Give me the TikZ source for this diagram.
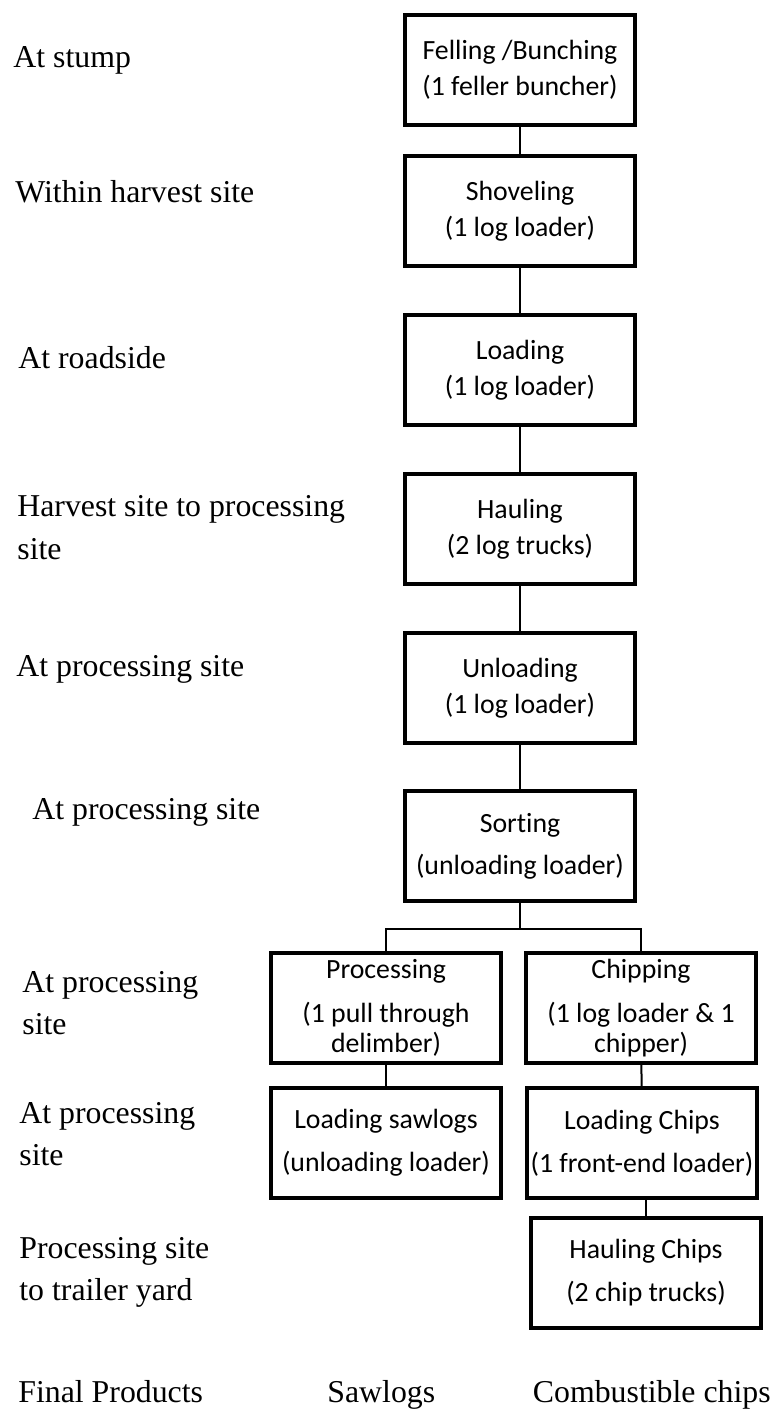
\documentclass[tikz,border=0pt]{standalone}
\usepackage{fontspec}
\setmainfont{Liberation Serif}
\newfontfamily\boxfont{Carlito}[Ligatures=NoCommon]
\usepackage{tikz}

\begin{document}
\begin{tikzpicture}[x=0.5pt,y=-0.5pt,
	stage/.style={draw,line width=2pt,minimum width=115pt,minimum height=55pt,inner sep=1pt,align=center,
		font=\boxfont\fontsize{13.9}{15}\selectfont},
	where/.style={anchor=base west,align=left,inner sep=0pt,font=\fontsize{15.9}{21}\selectfont},
	link/.style={line width=1pt}]
	\useasboundingbox (0,0) rectangle (776,1416);
	% operations
	\node[stage] (fell) at (520,70) {Felling /Bunching\\[3pt](1 feller buncher)};
	\node[stage] (shovel) at (520,211) {Shoveling\\[3pt](1 log loader)};
	\node[stage] (load) at (520,370) {Loading\\[3pt](1 log loader)};
	\node[stage] (haul) at (520,529) {Hauling\\[3pt](2 log trucks)};
	\node[stage] (unload) at (520,688) {Unloading\\[3pt](1 log loader)};
	\node[stage] (sort) at (520,846) {Sorting\\[6pt](unloading loader)};
	\node[stage] (proc) at (386,1008) {Processing\\[7pt](1 pull through\\delimber)};
	\node[stage] (chip) at (641,1008) {Chipping\\[7pt](1 log loader \& 1\\chipper)};
	\node[stage] (loadsaw) at (386,1143) {Loading sawlogs\\[6.5pt](unloading loader)};
	\node[stage] (loadchip) at (642,1143) {Loading Chips\\[6.5pt](1 front-end loader)};
	\node[stage] (haulchip) at (646,1273) {Hauling Chips\\[6.5pt](2 chip trucks)};
	\coordinate (split) at (520,929);
	% where it happens (base = last line)
	\node[where] (w1) at (13,68) {At stump};
	\node[where] (w2) at (15,203) {Within harvest site};
	\node[where] (w3) at (18,369) {At roadside};
	\node[where] (w4) at (17,559) {Harvest site to processing\\site};
	\node[where] (w5) at (16,676) {At processing site};
	\node[where] (w6) at (32,819) {At processing site};
	\node[where] (w7) at (22,1034) {At processing\\site};
	\node[where] (w8) at (19,1165) {At processing\\site};
	\node[where] (w9) at (19,1300) {Processing site\\to trailer yard};
	\node[where] (fin) at (18,1402) {Final Products};
	\node[where] (saw) at (327,1402) {Sawlogs};
	\node[where,anchor=base east] (chips) at (771,1402) {Combustible chips};
	% links
	\draw[link] (fell) -- (shovel);
	\draw[link] (shovel) -- (load);
	\draw[link] (load) -- (haul);
	\draw[link] (haul) -- (unload);
	\draw[link] (unload) -- (sort);
	\draw[link] (sort) -- (split);
	\draw[link] (proc) |- (split) -| (chip);
	\draw[link] (proc) -- (loadsaw);
	\draw[link] (chip) -- (loadchip);
	\draw[link] (haulchip.north |- loadchip.south) -- (haulchip);
\end{tikzpicture}
\end{document}
